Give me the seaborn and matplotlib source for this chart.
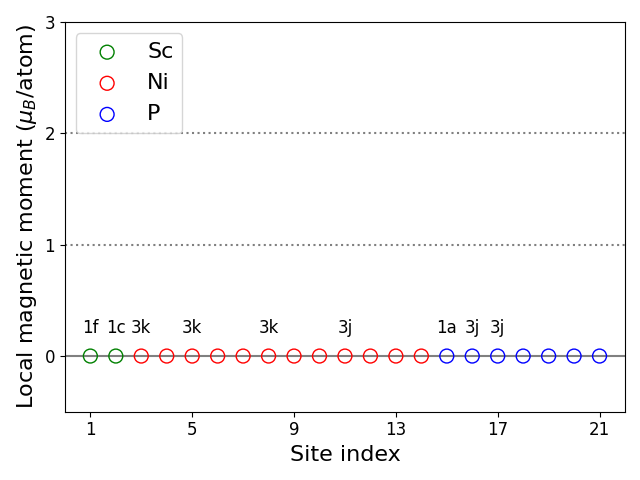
import matplotlib
matplotlib.use("Agg")
import matplotlib.pyplot as plt
import seaborn as sns
import pandas as pd

sc_sites = [1, 2]
ni_sites = [3, 4, 5, 6, 7, 8, 9, 10, 11, 12, 13, 14]
p_sites = [15, 16, 17, 18, 19, 20, 21]
sc_moments = [0, 0]
ni_moments = [0] * 12
p_moments = [0] * 7
label_sites = [1, 2, 3, 5, 8, 11, 15, 16, 17]
label_texts = ["1f", "1c", "3k", "3k", "3k", "3j", "1a", "3j", "3j"]
xticks = [1, 5, 9, 13, 17, 21]
yticks = [0, 1, 2, 3]

fig, ax = plt.subplots(figsize=(6.4, 4.8), dpi=100)
for sites, mom, col, name in [(sc_sites, sc_moments, "green", "Sc"),
                              (ni_sites, ni_moments, "red", "Ni"),
                              (p_sites, p_moments, "blue", "P")]:
    df = pd.DataFrame({"site": sites, "m": mom})
    sns.scatterplot(data=df, x="site", y="m", ax=ax, s=100, marker="o",
                    facecolor="none", edgecolor=col, linewidth=1, label=name, zorder=3)

ax.axhline(0, color="gray", lw=1.5, zorder=1)
ax.axhline(1, color="gray", ls=":", lw=1.5)
ax.axhline(2, color="gray", ls=":", lw=1.5)
for s, t in zip(label_sites, label_texts):
    ax.text(s, 0.25, t, ha="center", va="center", fontsize=12)

ax.set_xlim(0, 22)
ax.set_ylim(-0.5, 3)
ax.set_xticks(xticks)
ax.set_yticks(yticks)
ax.tick_params(labelsize=12)
ax.set_xlabel("Site index", fontsize=16)
ax.set_ylabel(r"Local magnetic moment ($\mu_B$/atom)", fontsize=16)
ax.legend(loc="upper left", fontsize=16)
fig.tight_layout()
fig.savefig("out.png", dpi=100)
